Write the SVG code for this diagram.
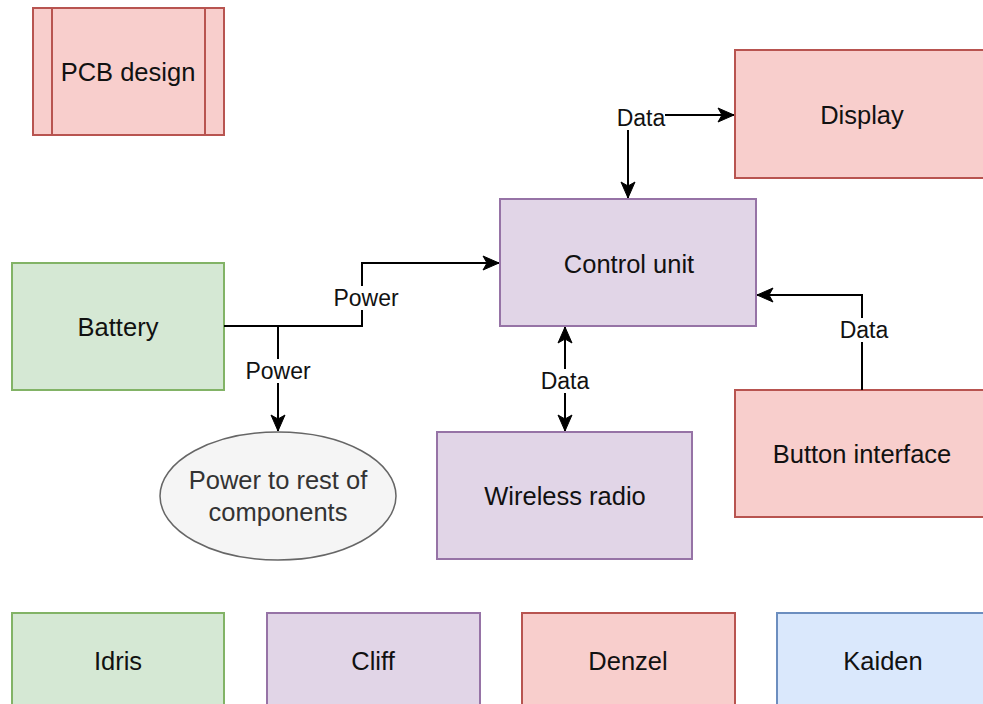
<svg xmlns="http://www.w3.org/2000/svg" width="983" height="704" viewBox="0 0 983 704">
<defs>
<style>
.t{font-family:"Liberation Sans",Arial,Helvetica,sans-serif;font-size:25.5px;fill:#111;text-anchor:middle;dominant-baseline:central}
.e{font-family:"Liberation Sans",Arial,Helvetica,sans-serif;font-size:23px;fill:#111;text-anchor:middle;dominant-baseline:central}
.red{fill:#f8cecc;stroke:#b85450;stroke-width:2}
.grn{fill:#d5e8d4;stroke:#82b366;stroke-width:2}
.pur{fill:#e1d5e7;stroke:#9673a6;stroke-width:2}
.blu{fill:#dae8fc;stroke:#6c8ebf;stroke-width:2}
.ln{fill:none;stroke:#000;stroke-width:2}
.lb{fill:#fff}
</style>
<marker id="arr" viewBox="0 0 18 16" refX="17" refY="8" markerWidth="18" markerHeight="16" markerUnits="userSpaceOnUse" orient="auto-start-reverse">
<path d="M1,1 L17,8 L1,15 L5,8 Z" fill="#000" stroke="#000" stroke-width="1"/>
</marker>
</defs>
<rect width="983" height="704" fill="#fff"/>

<g id="pcb">
<rect class="red" x="33" y="8" width="191" height="127"/>
<line x1="52" y1="8" x2="52" y2="135" stroke="#b85450" stroke-width="2"/>
<line x1="205" y1="8" x2="205" y2="135" stroke="#b85450" stroke-width="2"/>
<text class="t" x="128" y="72">PCB design</text>
</g>

<g id="display">
<rect class="red" x="735" y="50" width="254" height="128"/>
<text class="t" x="862" y="115">Display</text>
</g>

<g id="control">
<rect class="pur" x="500" y="199" width="256" height="127"/>
<text class="t" x="629" y="264">Control unit</text>
</g>

<g id="battery">
<rect class="grn" x="12" y="263" width="212" height="127"/>
<text class="t" x="118" y="327">Battery</text>
</g>

<g id="power">
<ellipse cx="278" cy="496" rx="118" ry="64" fill="#f5f5f5" stroke="#666" stroke-width="1.5"/>
<text class="t" x="278" y="480" style="fill:#333">Power to rest of</text>
<text class="t" x="278" y="512" style="fill:#333">components</text>
</g>

<g id="wireless">
<rect class="pur" x="437" y="432" width="255" height="127"/>
<text class="t" x="565" y="496">Wireless radio</text>
</g>

<g id="button">
<rect class="red" x="735" y="390" width="254" height="127"/>
<text class="t" x="862" y="454">Button interface</text>
</g>

<g id="idris">
<rect class="grn" x="12" y="613" width="212" height="127"/>
<text class="t" x="118" y="661">Idris</text>
</g>
<g id="cliff">
<rect class="pur" x="267" y="613" width="213" height="127"/>
<text class="t" x="373" y="661">Cliff</text>
</g>
<g id="denzel">
<rect class="red" x="522" y="613" width="213" height="127"/>
<text class="t" x="628" y="661">Denzel</text>
</g>
<g id="kaiden">
<rect class="blu" x="777" y="613" width="212" height="127"/>
<text class="t" x="883" y="661">Kaiden</text>
</g>

<g id="connectors">
<polyline class="ln" points="224,326 362,326 362,263 499,263" marker-end="url(#arr)"/>
<rect class="lb" x="330" y="286" width="72" height="24"/>
<text class="e" x="366" y="298">Power</text>

<polyline class="ln" points="278,326 278,431" marker-end="url(#arr)"/>
<rect class="lb" x="242" y="359" width="72" height="24"/>
<text class="e" x="278" y="371">Power</text>

<polyline class="ln" points="628,198 628,115 734,115" marker-start="url(#arr)" marker-end="url(#arr)"/>
<rect class="lb" x="617" y="106" width="48" height="24"/>
<text class="e" x="641" y="118">Data</text>

<polyline class="ln" points="565,327 565,431" marker-start="url(#arr)" marker-end="url(#arr)"/>
<rect class="lb" x="540" y="369" width="50" height="24"/>
<text class="e" x="565" y="381">Data</text>

<polyline class="ln" points="862,390 862,295 757,295" marker-end="url(#arr)"/>
<rect class="lb" x="839" y="318" width="50" height="24"/>
<text class="e" x="864" y="330">Data</text>
</g>
</svg>
